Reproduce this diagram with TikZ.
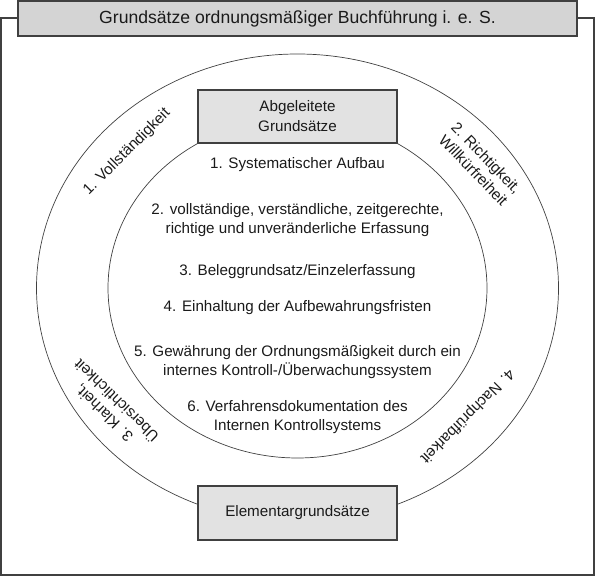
\documentclass[tikz,border=0pt]{standalone}
\usepackage{fontspec}
\setmainfont{Liberation Sans}
\definecolor{linec}{HTML}{404040}
\definecolor{titlefill}{HTML}{D4D4D4}
\definecolor{boxfill}{HTML}{E2E2E2}
\definecolor{txt}{HTML}{1A1A1A}
\begin{document}
\begin{tikzpicture}[x=1pt,y=-1pt,
  frame/.style={draw=linec, line width=1.1pt},
  ring/.style={draw=linec, line width=0.7pt},
  titlebox/.style={draw=linec, line width=1.1pt, fill=titlefill, minimum width=559pt, minimum height=35pt, inner sep=0pt, font=\fontsize{17.6}{21}\selectfont, text=txt},
  greybox/.style={draw=linec, line width=1.1pt, fill=boxfill, minimum width=199pt, minimum height=53pt, inner sep=0pt, align=center, font=\fontsize{15.2}{20}\selectfont, text=txt},
  itemtxt/.style={align=center, inner sep=0pt, font=\fontsize{15.2}{19.5}\selectfont, text=txt},
  lbl/.style={align=center, inner sep=0pt, font=\fontsize{15.2}{18}\selectfont, text=txt}]
\useasboundingbox (0,0) rectangle (595,577);
% outer frame
\draw[frame] (1,18) rectangle (594,575);
% concentric ellipses
\coordinate (c) at (297.5,288);
\draw[ring] (c) ellipse [x radius=261, y radius=234];
\draw[ring] (c) ellipse [x radius=189.5, y radius=170];
% boxes
\node[titlebox] (title) at (297.5,18.5) {Grundsätze ordnungsmäßiger Buchführung i. e. S.};
\node[greybox] (abg) at (297.5,116.5) {Abgeleitete\\Grundsätze};
\node[greybox, minimum height=54pt] (elem) at (297.5,513) {Elementargrundsätze};
% inner items
\node[itemtxt] (i1) at (297.5,165) {1. Systematischer Aufbau};
\node[itemtxt] (i2) at (297.5,220) {2. vollständige, verständliche, zeitgerechte,\\richtige und unveränderliche Erfassung};
\node[itemtxt] (i3) at (297.5,272) {3. Beleggrundsatz/Einzelerfassung};
\node[itemtxt] (i4) at (297.5,308) {4. Einhaltung der Aufbewahrungsfristen};
\node[itemtxt] (i5) at (297.5,362) {5. Gewährung der Ordnungsmäßigkeit durch ein\\internes Kontroll-/Überwachungssystem};
\node[itemtxt] (i6) at (297.5,417) {6. Verfahrensdokumentation des\\Internen Kontrollsystems};
% ring labels
\node[lbl, rotate=45] (l1) at (127,152) {1. Vollständigkeit};
\node[lbl, rotate=-46] (l2) at (480,164) {2. Richtigkeit,\\Willkürfreiheit};
\node[lbl, rotate=136] (l3) at (110,407) {3. Klarheit,\\Übersichtlichkeit};
\node[lbl, rotate=225] (l4) at (467,416) {4. Nachprüfbarkeit};
\end{tikzpicture}
\end{document}
